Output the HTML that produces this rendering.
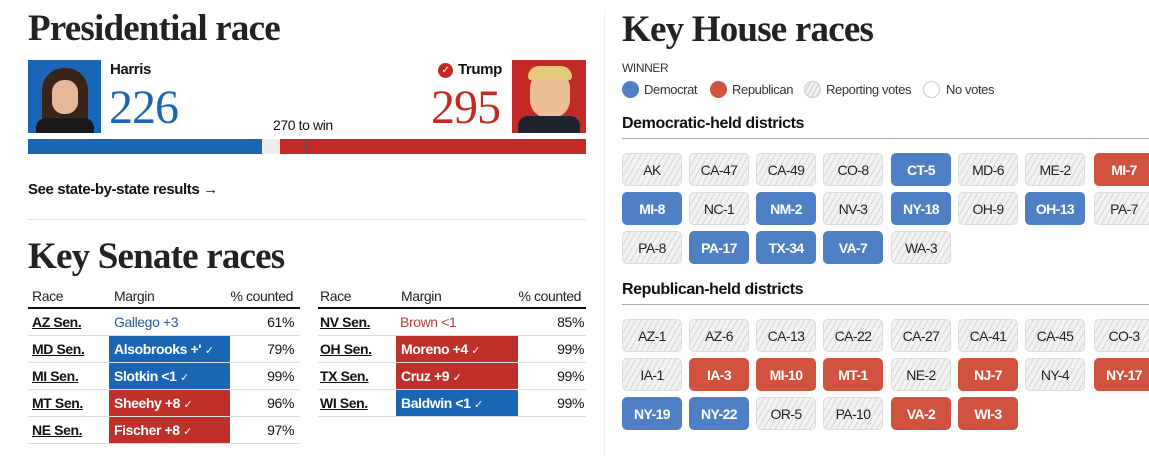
<!DOCTYPE html>
<html><head><meta charset="utf-8"><style>
*{margin:0;padding:0;box-sizing:border-box}
body{width:1149px;height:456px;background:#fff;position:relative;overflow:hidden;font-family:"Liberation Sans",sans-serif;color:#111;letter-spacing:-0.4px}
.a{position:absolute;white-space:nowrap}
.ser{font-family:"Liberation Serif",serif;font-weight:bold;letter-spacing:-0.8px;color:#222}
.t{position:absolute;width:60px;height:33px;border-radius:5px;font-size:14px;line-height:33px;text-align:center;color:#222;border:1px solid #ddd;letter-spacing:-0.6px;
background:repeating-linear-gradient(-60deg,#f3f3f3 0 4px,#d8d8d8 4px 5px)}
.t.d{background:#4f7fc4;border-color:#4f7fc4;color:#fff;font-weight:bold}
.t.r{background:#d0523f;border-color:#d0523f;color:#fff;font-weight:bold}
.row{position:absolute;height:27px;border-bottom:1px solid #ddd;font-size:14px;line-height:26px}
.row span{position:absolute}
.race{font-weight:bold;text-decoration:underline}
.m{height:26px;color:#fff;font-weight:bold;padding-left:5px;overflow:hidden}
.m i{font-style:normal;font-weight:normal;font-size:11px}
.b{background:#1a65b5}.rr{background:#c0302b}
.h{font-size:14px;color:#222}
</style></head><body>
<div class="a ser" style="left:28px;top:7px;font-size:37px">Presidential race</div>
<div class="a" style="left:28px;top:60px;width:73px;height:73px;background:#1a65b5"><div style="position:absolute;left:14px;top:8px;width:46px;height:65px;background:#3a2418;border-radius:22px 22px 4px 4px"></div><div style="position:absolute;left:24px;top:20px;width:26px;height:34px;background:#e5b89a;border-radius:12px"></div><div style="position:absolute;left:8px;top:58px;width:58px;height:15px;background:#1a1a1a;border-radius:10px 10px 0 0"></div></div>
<div class="a" style="left:512px;top:60px;width:74px;height:73px;background:#c42a25"><div style="position:absolute;left:18px;top:10px;width:40px;height:48px;background:#ecbf98;border-radius:18px"></div><div style="position:absolute;left:16px;top:6px;width:44px;height:14px;background:#e7c97d;border-radius:14px 14px 4px 4px"></div><div style="position:absolute;left:6px;top:56px;width:62px;height:17px;background:#1f2330;border-radius:10px 10px 0 0"></div></div>
<div class="a" style="left:110px;top:61px;font-size:15px;font-weight:bold">Harris</div>
<div class="a ser" style="left:109px;top:80px;font-size:48px;color:#1a65b5;font-weight:normal;letter-spacing:-1px">226</div>
<div class="a" style="left:438px;top:63px;width:15px;height:15px;border-radius:50%;background:#c42a25;color:#fff;font-size:10px;line-height:15px;text-align:center">✓</div>
<div class="a" style="left:458px;top:61px;font-size:15px;font-weight:bold">Trump</div>
<div class="a ser" style="left:431px;top:80px;font-size:48px;color:#c42a25;font-weight:normal;letter-spacing:-1px">295</div>
<div class="a" style="left:273px;top:117px;font-size:14px">270 to win</div>
<div class="a" style="left:28px;top:139px;width:234px;height:15px;background:#1a65b5"></div>
<div class="a" style="left:262px;top:139px;width:18px;height:15px;background:#eee"></div>
<div class="a" style="left:280px;top:139px;width:306px;height:15px;background:#c42a25"></div>
<div class="a" style="left:306px;top:139px;width:2px;height:15px;background:#555"></div>
<div class="a" style="left:28px;top:181px;font-size:15px;font-weight:bold">See state-by-state results <span style="font-weight:normal">→</span></div>
<div class="a" style="left:28px;top:219px;width:558px;height:1px;background:#e2e2e2"></div>
<div class="a ser" style="left:28px;top:235px;font-size:37px">Key Senate races</div>
<div class="a" style="left:604px;top:10px;width:1px;height:446px;background:#eee"></div>

<div class="a h" style="left:32px;top:288px">Race</div>
<div class="a h" style="left:114px;top:288px">Margin</div>
<div class="a h" style="right:856px;top:288px">% counted</div>
<div class="a" style="left:28px;top:307px;width:272px;height:2px;background:#111"></div>
<div class="a h" style="left:320px;top:288px">Race</div>
<div class="a h" style="left:401px;top:288px">Margin</div>
<div class="a h" style="right:568px;top:288px">% counted</div>
<div class="a" style="left:318px;top:307px;width:268px;height:2px;background:#111"></div>

<div class="row" style="left:28px;top:309px;width:272px"><span class="race" style="left:4px">AZ Sen.</span><span style="left:86px;color:#2a5a9a">Gallego +3</span><span style="right:6px">61%</span></div>
<div class="row" style="left:28px;top:336px;width:272px"><span class="race" style="left:4px">MD Sen.</span><span class="m b" style="left:81px;width:121px">Alsobrooks +' <i>✓</i></span><span style="right:6px">79%</span></div>
<div class="row" style="left:28px;top:363px;width:272px"><span class="race" style="left:4px">MI Sen.</span><span class="m b" style="left:81px;width:121px">Slotkin &lt;1 <i>✓</i></span><span style="right:6px">99%</span></div>
<div class="row" style="left:28px;top:390px;width:272px"><span class="race" style="left:4px">MT Sen.</span><span class="m rr" style="left:81px;width:121px">Sheehy +8 <i>✓</i></span><span style="right:6px">96%</span></div>
<div class="row" style="left:28px;top:417px;width:272px"><span class="race" style="left:4px">NE Sen.</span><span class="m rr" style="left:81px;width:121px">Fischer +8 <i>✓</i></span><span style="right:6px">97%</span></div>

<div class="row" style="left:318px;top:309px;width:268px"><span class="race" style="left:2px">NV Sen.</span><span style="left:82px;color:#b0403a">Brown &lt;1</span><span style="right:2px">85%</span></div>
<div class="row" style="left:318px;top:336px;width:268px"><span class="race" style="left:2px">OH Sen.</span><span class="m rr" style="left:78px;width:122px">Moreno +4 <i>✓</i></span><span style="right:2px">99%</span></div>
<div class="row" style="left:318px;top:363px;width:268px"><span class="race" style="left:2px">TX Sen.</span><span class="m rr" style="left:78px;width:122px">Cruz +9 <i>✓</i></span><span style="right:2px">99%</span></div>
<div class="row" style="left:318px;top:390px;width:268px"><span class="race" style="left:2px">WI Sen.</span><span class="m b" style="left:78px;width:122px">Baldwin &lt;1 <i>✓</i></span><span style="right:2px">99%</span></div>

<div class="a ser" style="left:622px;top:8px;font-size:37px">Key House races</div>
<div class="a" style="left:622px;top:61px;font-size:12px;color:#333">WINNER</div>
<div class="a" style="left:622px;top:81px;width:17px;height:17px;border-radius:50%;background:#4f7fc4"></div>
<div class="a" style="left:644px;top:82px;font-size:13px;color:#333">Democrat</div>
<div class="a" style="left:710px;top:81px;width:17px;height:17px;border-radius:50%;background:#d0523f"></div>
<div class="a" style="left:732px;top:82px;font-size:13px;color:#333">Republican</div>
<div class="a" style="left:804px;top:81px;width:17px;height:17px;border-radius:50%;border:1px solid #ccc;background:repeating-linear-gradient(-60deg,#f3f3f3 0 3px,#ccc 3px 4px)"></div>
<div class="a" style="left:826px;top:82px;font-size:13px;color:#333">Reporting votes</div>
<div class="a" style="left:923px;top:81px;width:17px;height:17px;border-radius:50%;border:1px solid #ccc"></div>
<div class="a" style="left:946px;top:82px;font-size:13px;color:#333">No votes</div>
<div class="a" style="left:622px;top:115px;font-size:16px;font-weight:bold">Democratic-held districts</div>
<div class="a" style="left:622px;top:138px;width:527px;height:1px;background:#aaa"></div>
<div class="a" style="left:622px;top:281px;font-size:16px;font-weight:bold">Republican-held districts</div>
<div class="a" style="left:622px;top:304px;width:527px;height:1px;background:#aaa"></div>

<div class="t" style="left:622px;top:153px">AK</div>
<div class="t" style="left:689px;top:153px">CA-47</div>
<div class="t" style="left:756px;top:153px">CA-49</div>
<div class="t" style="left:823px;top:153px">CO-8</div>
<div class="t d" style="left:891px;top:153px">CT-5</div>
<div class="t" style="left:958px;top:153px">MD-6</div>
<div class="t" style="left:1025px;top:153px">ME-2</div>
<div class="t r" style="left:1094px;top:153px">MI-7</div>
<div class="t d" style="left:622px;top:192px">MI-8</div>
<div class="t" style="left:689px;top:192px">NC-1</div>
<div class="t d" style="left:756px;top:192px">NM-2</div>
<div class="t" style="left:823px;top:192px">NV-3</div>
<div class="t d" style="left:891px;top:192px">NY-18</div>
<div class="t" style="left:958px;top:192px">OH-9</div>
<div class="t d" style="left:1025px;top:192px">OH-13</div>
<div class="t" style="left:1094px;top:192px">PA-7</div>
<div class="t" style="left:622px;top:231px">PA-8</div>
<div class="t d" style="left:689px;top:231px">PA-17</div>
<div class="t d" style="left:756px;top:231px">TX-34</div>
<div class="t d" style="left:823px;top:231px">VA-7</div>
<div class="t" style="left:891px;top:231px">WA-3</div>

<div class="t" style="left:622px;top:319px">AZ-1</div>
<div class="t" style="left:689px;top:319px">AZ-6</div>
<div class="t" style="left:756px;top:319px">CA-13</div>
<div class="t" style="left:823px;top:319px">CA-22</div>
<div class="t" style="left:891px;top:319px">CA-27</div>
<div class="t" style="left:958px;top:319px">CA-41</div>
<div class="t" style="left:1025px;top:319px">CA-45</div>
<div class="t" style="left:1094px;top:319px">CO-3</div>
<div class="t" style="left:622px;top:358px">IA-1</div>
<div class="t r" style="left:689px;top:358px">IA-3</div>
<div class="t r" style="left:756px;top:358px">MI-10</div>
<div class="t r" style="left:823px;top:358px">MT-1</div>
<div class="t" style="left:891px;top:358px">NE-2</div>
<div class="t r" style="left:958px;top:358px">NJ-7</div>
<div class="t" style="left:1025px;top:358px">NY-4</div>
<div class="t r" style="left:1094px;top:358px">NY-17</div>
<div class="t d" style="left:622px;top:397px">NY-19</div>
<div class="t d" style="left:689px;top:397px">NY-22</div>
<div class="t" style="left:756px;top:397px">OR-5</div>
<div class="t" style="left:823px;top:397px">PA-10</div>
<div class="t r" style="left:891px;top:397px">VA-2</div>
<div class="t r" style="left:958px;top:397px">WI-3</div>
</body></html>
